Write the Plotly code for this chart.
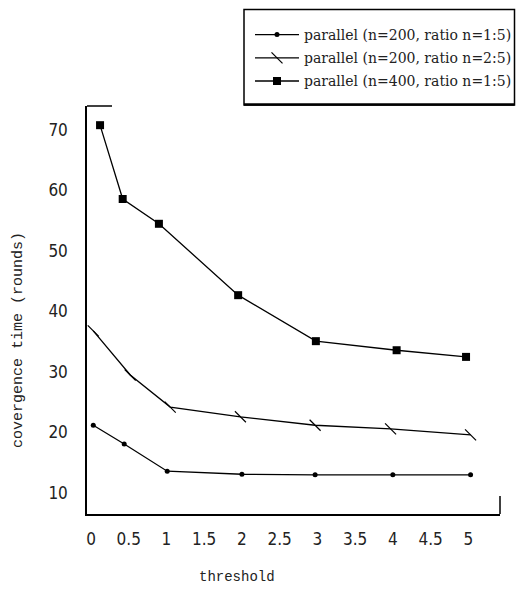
import plotly.graph_objects as go

# ---- data ----
x_dots = [0.03, 0.44, 1.01, 2.0, 2.97, 4.0, 5.03]
y_dots = [21.2, 18.1, 13.6, 13.1, 13.0, 13.0, 13.0]

x_cross = [0.03, 0.52, 1.05, 1.98, 2.97, 3.97, 5.03]
y_cross = [36.8, 29.5, 24.2, 22.6, 21.2, 20.6, 19.6]

x_sq = [0.12, 0.42, 0.9, 1.95, 2.98, 4.05, 4.97]
y_sq = [70.8, 58.6, 54.5, 42.7, 35.1, 33.6, 32.5]

names = ["parallel (n=200, ratio n=1:5)",
         "parallel (n=200, ratio n=2:5)",
         "parallel (n=400, ratio n=1:5)"]

x_ticks = [0, 0.5, 1, 1.5, 2, 2.5, 3, 3.5, 4, 4.5, 5]
x_ticktext = ["0", "0.5", "1", "1.5", "2", "2.5", "3", "3.5", "4", "4.5", "5"]
y_ticks = [10, 20, 30, 40, 50, 60, 70]

TICKFONT = dict(family="Liberation Sans Narrow, DejaVu Sans Condensed, Liberation Sans",
                size=17, color="#222")
LEGFONT = "DejaVu Serif, Liberation Serif, serif"
MONO = "Liberation Mono, Courier New, monospace"

fig = go.Figure()
fig.add_trace(go.Scatter(
    x=x_dots, y=y_dots, name=names[0], mode="lines+markers", legendgroup="a",
    line=dict(color="black", width=1.3),
    marker=dict(symbol="circle", size=5, color="black")))
fig.add_trace(go.Scatter(
    x=x_cross, y=y_cross, name=names[1], mode="lines+markers", legendgroup="b",
    line=dict(color="black", width=1.3),
    marker=dict(symbol="line-nw", size=11, color="black",
                line=dict(color="black", width=1.2))))
fig.add_trace(go.Scatter(
    x=x_sq, y=y_sq, name=names[2], mode="lines+markers", legendgroup="c",
    line=dict(color="black", width=1.3),
    marker=dict(symbol="square", size=8, color="black")))

# the page body keeps its default 8px margin: size the figure so it fits
OFF = 8
W, H = 524 - 2 * OFF, 594 - 2 * OFF
L, T = 87 - OFF, 106 - OFF
R = W - (500 - OFF)
B = H - (514 - OFF)
PW, PH = 413, 408  # plot area size in px


def px(xp):  # window x pixel -> paper x
    return (xp - 87) / PW


def py(yp):  # window y pixel -> paper y
    return (514 - yp) / PH


fig.update_layout(
    width=W, height=H,
    margin=dict(l=L, r=R, t=T, b=B, pad=0, autoexpand=False),
    paper_bgcolor="white", plot_bgcolor="white",
    showlegend=True,
    legend=dict(x=px(250), y=py(19), xanchor="left", yanchor="top",
                bgcolor="rgba(0,0,0,0)", borderwidth=0,
                font=dict(family=LEGFONT, size=14, color="#222"),
                itemwidth=44, tracegroupgap=2, traceorder="grouped"),
    xaxis=dict(range=[-0.053, 5.42], tickvals=x_ticks, ticktext=x_ticktext,
               showline=True, linecolor="black", linewidth=1.5,
               showgrid=False, zeroline=False, ticks="",
               ticklabelstandoff=9, tickfont=TICKFONT),
    yaxis=dict(range=[6.53, 73.97], tickvals=y_ticks,
               showline=True, linecolor="black", linewidth=1.5,
               showgrid=False, zeroline=False, ticks="",
               ticklabelstandoff=14, tickfont=TICKFONT),
    annotations=[
        dict(text="threshold", xref="paper", yref="paper",
             x=px(237), y=py(577),
             xanchor="center", yanchor="middle", showarrow=False,
             font=dict(family=MONO, size=14, color="#222")),
        dict(text="covergence time (rounds)", xref="paper", yref="paper",
             x=px(18), y=py(340), textangle=-90,
             xanchor="center", yanchor="middle", showarrow=False,
             font=dict(family=MONO, size=15, color="#222")),
    ],
    shapes=[
        # legend box
        dict(type="rect", xref="paper", yref="paper",
             x0=px(244), x1=px(514.5), y0=py(105), y1=py(9.5),
             line=dict(color="black", width=1.5), fillcolor="white", layer="below"),
        dict(type="line", xref="paper", yref="paper",
             x0=px(244), x1=px(514.5), y0=py(104.5), y1=py(104.5),
             line=dict(color="black", width=2.5)),
        # top stub of frame
        dict(type="line", xref="paper", yref="paper",
             x0=0, x1=px(112), y0=1, y1=1,
             line=dict(color="black", width=1.5)),
        # right stub of frame
        dict(type="line", xref="paper", yref="paper",
             x0=1, x1=1, y0=0, y1=py(496),
             line=dict(color="black", width=1.5)),
    ],
)

fig.write_html("out.html", config={"displayModeBar": False})
